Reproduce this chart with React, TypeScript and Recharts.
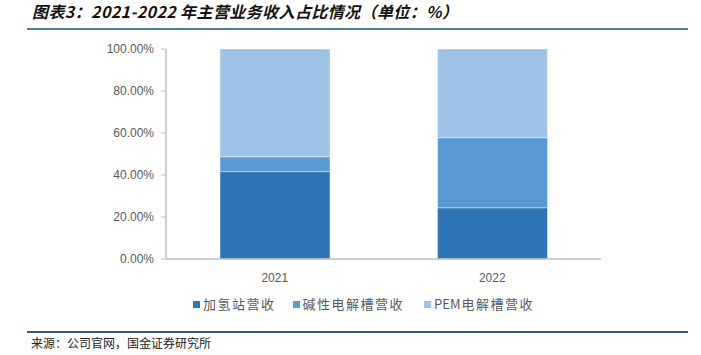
import React from "react";
import { BarChart, Bar, XAxis, YAxis } from "recharts";

const years = ["2021", "2022"];
const hydrogenStation = [41.6, 24.4];
const alkalineElectrolyzer = [7.1, 33.4];
const pemElectrolyzer = [51.3, 42.2];
const yTicks = [0, 20, 40, 60, 80, 100];

const seriesNames = ["加氢站营收", "碱性电解槽营收", "PEM电解槽营收"];
const seriesColors = ["#2E75B6", "#5B9BD5", "#9DC3E6"];

const data = years.map((y, i) => ({
  year: y,
  a: hydrogenStation[i],
  b: alkalineElectrolyzer[i],
  c: pemElectrolyzer[i],
}));

const CJK = '"Noto Sans CJK SC", "Liberation Sans", sans-serif';

const renderName = (n: string) => {
  const m = n.match(/^([A-Za-z]+)(.*)$/);
  if (!m) return <span>{n}</span>;
  return (
    <span>
      <span style={{ letterSpacing: 0, marginRight: 1 }}>{m[1]}</span>
      {m[2]}
    </span>
  );
};

const LegendBlock = () => (
  <div
    style={{
      position: "absolute",
      left: 193,
      top: 295,
      display: "flex",
      fontFamily: CJK,
      fontSize: 13,
      color: "#595959",
      letterSpacing: 1.5,
      lineHeight: "18px",
      whiteSpace: "nowrap",
    }}
  >
    {seriesNames.map((n, i) => (
      <div key={n} style={{ display: "flex", alignItems: "center", marginRight: i === 0 ? 17 : 20 }}>
        <span
          style={{
            display: "inline-block",
            width: 7,
            height: 7,
            background: seriesColors[i],
            marginRight: 3,
          }}
        />
        {renderName(n)}
      </div>
    ))}
  </div>
);

export default function App() {
  return (
    <div style={{ position: "absolute", left: 0, top: 0, width: 701, height: 355, background: "#fff" }}>
      <div
        style={{
          position: "absolute",
          left: 32,
          top: 0,
          fontFamily: CJK,
          fontSize: 16,
          fontWeight: 700,
          fontStyle: "italic",
          lineHeight: "22px",
          letterSpacing: 0.4,
          color: "#111",
          whiteSpace: "nowrap",
        }}
      >
        图表3：2021-2022 年主营业务收入占比情况（单位：%）
      </div>
      <div style={{ position: "absolute", left: 27, top: 28, width: 661, height: 2, background: "#4F7F99" }} />
      <BarChart
        width={701}
        height={355}
        data={data}
        margin={{ top: 49, right: 100, left: 0, bottom: 66 }}
        barSize={110}
      >
        <XAxis
          dataKey="year"
          height={30}
          tickLine={false}
          axisLine={{ stroke: "#BFBFBF", strokeWidth: 1.5 }}
          tick={{ fill: "#595959", fontSize: 12, fontFamily: '"Liberation Sans", sans-serif' }}
          tickMargin={8}
        />
        <YAxis
          width={166}
          domain={[0, 100]}
          ticks={yTicks}
          interval={0}
          tickFormatter={(v: number) => v.toFixed(2) + "%"}
          axisLine={{ stroke: "#BFBFBF", strokeWidth: 1.5 }}
          tickLine={{ stroke: "#BFBFBF" }}
          tickSize={5}
          tickMargin={7}
          tick={{ fill: "#595959", fontSize: 12, fontFamily: '"Liberation Sans", sans-serif' }}
        />
        <Bar dataKey="a" name={seriesNames[0]} stackId="s" fill={seriesColors[0]} stroke="#ffffff" strokeWidth={0.6} strokeOpacity={0.7} isAnimationActive={false} />
        <Bar dataKey="b" name={seriesNames[1]} stackId="s" fill={seriesColors[1]} stroke="#ffffff" strokeWidth={0.6} strokeOpacity={0.7} isAnimationActive={false} />
        <Bar dataKey="c" name={seriesNames[2]} stackId="s" fill={seriesColors[2]} stroke="#ffffff" strokeWidth={0.6} strokeOpacity={0.7} isAnimationActive={false} />
      </BarChart>
      <LegendBlock />
      <div style={{ position: "absolute", left: 27, top: 331, width: 661, height: 2, background: "#2B5C87" }} />
      <div
        style={{
          position: "absolute",
          left: 31,
          top: 335,
          fontFamily: CJK,
          fontSize: 12,
          lineHeight: "16px",
          color: "#222",
          whiteSpace: "nowrap",
        }}
      >
        来源：公司官网，国金证券研究所
      </div>
    </div>
  );
}
